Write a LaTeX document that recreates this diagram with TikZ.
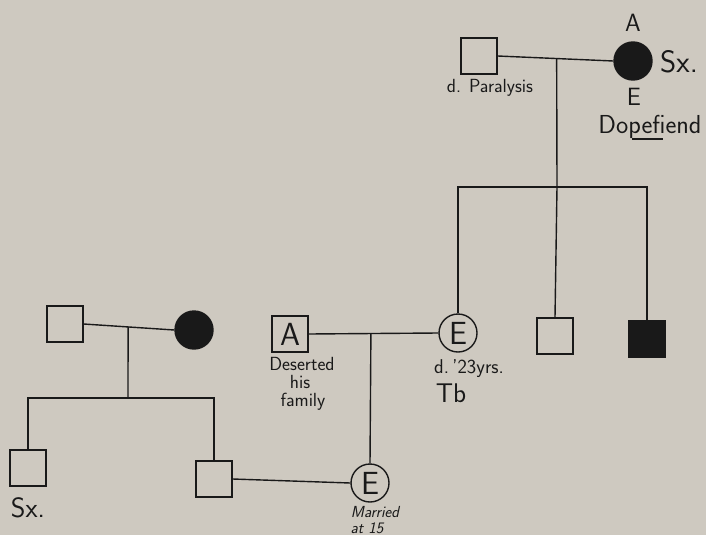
\documentclass[tikz,border=0pt]{standalone}
\usepackage{xcolor}
\usetikzlibrary{calc}
\definecolor{paper}{RGB}{206,201,192}
\definecolor{ink}{RGB}{25,25,25}

\newcommand{\fsz}[1]{\sffamily\fontsize{#1}{#1}\selectfont}

\begin{document}
\begin{tikzpicture}[x=1pt, y=-1pt,
        line width=1.4pt, draw=ink,
        every node/.style={inner sep=0pt, text=ink},
        male/.style={rectangle, draw=ink, minimum size=36pt},
        female/.style={circle, draw=ink, minimum size=38pt},
        hit/.style={fill=ink},
        sym/.style={font={\fsz{32}}},
        lbl/.style={anchor=base, font={\fsz{#1}}}]
    \fill[paper] (0,0) rectangle (706,535);
    \useasboundingbox (0,0) rectangle (706,535);

    % top couple
    \node[male] (gf) at (479,56) {};
    \node[female, hit] (gm) at (633,61) {};
    \coordinate (m1) at ($(gf.east)!0.51!(gm.west)$);
    \coordinate (s1) at (557,187);
    \node[lbl=19] (gfl) at (490,92) {d. Paralysis};
    \node[lbl=25] (gma) at (633,32) {A};
    \node[lbl=31] (gmx) at (679,72) {Sx.};
    \node[lbl=25] (gme) at (634,105) {E};
    \node[lbl=26] (dope) at (650,133) {Dopefiend};
    \draw[line width=1.2pt] (632,139) -- (663,139);

    % their children
    \node[female, sym] (c1) at (458,333) {E};
    \node[male] (c2) at (555,336) {};
    \node[male, hit] (c3) at (647,339) {};
    \node[lbl=20] (c1d) at (469,373) {d.\,'23yrs.};
    \node[lbl=27] (c1t) at (451,402) {Tb};

    % middle couple
    \node[male, sym] (a) at (290,334) {A};
    \node[lbl=19] (al1) at (302,370) {Deserted};
    \node[lbl=19] (al2) at (300,388) {his};
    \node[lbl=19] (al3) at (303,406) {family};
    \coordinate (m2) at ($(a.east)!0.48!(c1.west)$);
    \node[female, sym] (d) at (370,483) {E};
    \node[lbl=16, font={\fsz{16}\itshape}] (dl1) at (375,517) {Married};
    \node[lbl=16, font={\fsz{16}\itshape}] (dl2) at (367,533) {at 15};

    % left couple
    \node[male] (lf) at (65,324) {};
    \node[female, hit] (lm) at (194,330) {};
    \coordinate (m3) at ($(lf.east)!0.49!(lm.west)$);
    \coordinate (s2) at (128,398);
    \node[male] (l1) at (28,468) {};
    \node[male] (l2) at (214,479) {};
    \node[lbl=28] (l1x) at (28,517) {Sx.};

    % lines
    \draw (gf.east) -- (gm.west);
    \draw (m1) -- (s1);
    \draw (c1.north) |- (s1) -| (c3.north);
    \draw (s1) -- (c2.north);
    \draw (a.east) -- (c1.west);
    \draw (m2) -- (d.north);
    \draw (lf.east) -- (lm.west);
    \draw (m3) -- (s2);
    \draw (l1.north) |- (s2) -| (l2.north);
    \draw (l2.east) -- (d.west);
\end{tikzpicture}
\end{document}
